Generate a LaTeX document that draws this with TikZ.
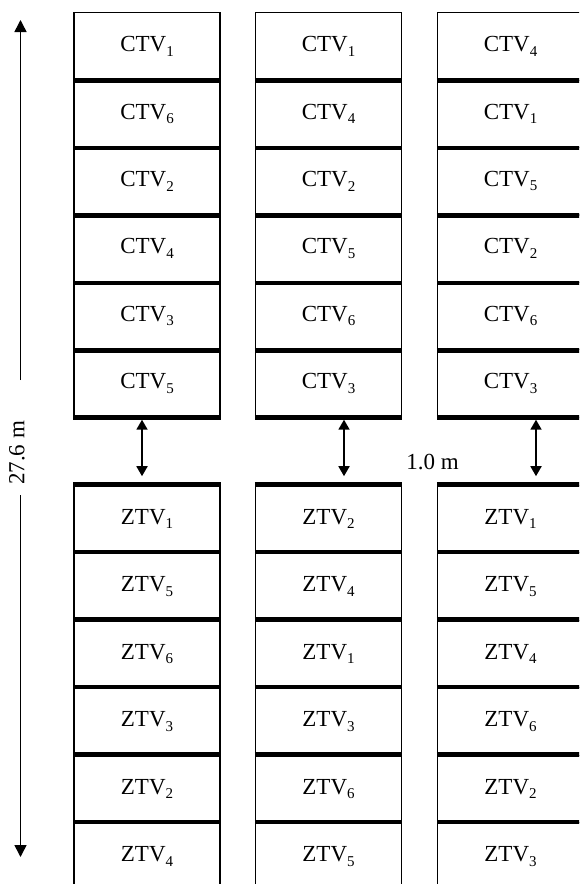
\documentclass[tikz,border=0pt]{standalone}
\usepackage{fontspec}
\setmainfont{Liberation Serif}
\usetikzlibrary{arrows.meta,calc}
\newcommand\sbs[1]{\raisebox{-4.5pt}{\fontsize{15}{15}\selectfont #1}}
\begin{document}
\begin{tikzpicture}[x=1pt,y=-1pt,
  cell/.style={draw, line width=1.2pt, minimum width=146pt, inner sep=0pt, font=\fontsize{23}{27}\selectfont},
  ccell/.style={cell, minimum height=67.4pt},
  zcell/.style={cell, minimum height=67.5pt},
  sep/.style={line width=4.5pt},
  dim/.style={line width=1.8pt, {Triangle[length=10pt,width=11pt]}-{Triangle[length=10pt,width=11pt]}},
  bigarrow/.style={line width=1.5pt, -{Triangle[length=12pt,width=12pt]}},
  lbl/.style={font=\fontsize{23}{27}\selectfont, inner sep=0pt}]
\useasboundingbox (0,0) rectangle (579,884);
\clip (0,0) rectangle (579,884);
% CTV block
\foreach \col/\x/\lst in {1/147/{1,6,2,4,3,5}, 2/328.5/{1,4,2,5,6,3}, 3/510.5/{4,1,5,2,6,3}} {
  \foreach \n [count=\r] in \lst {
    \node[ccell] (c\col\r) at (\x, {46.4+67.4*(\r-1)}) {CTV\sbs{\n}};
  }
}
% ZTV block
\foreach \col/\x/\lst in {1/147/{1,5,6,3,2,4}, 2/328.5/{2,4,1,3,6,5}, 3/510.5/{1,5,4,6,2,3}} {
  \foreach \n [count=\r] in \lst {
    \node[zcell] (z\col\r) at (\x, {519.05+67.5*(\r-1)}) {ZTV\sbs{\n}};
  }
}
% thick separators
\foreach \col in {1,2,3} {
  \foreach \r in {1,...,6} {
    \draw[sep] (c\col\r.south west) -- (c\col\r.south east);
    \draw[sep] (z\col\r.north west) -- (z\col\r.north east);
  }
}
% 1.0 m spacing arrows
\draw[dim] ([xshift=-5pt,yshift=-2pt]c16.south) -- ([xshift=-5pt,yshift=8.5pt]z11.north);
\draw[dim] ([xshift=15.5pt,yshift=-2pt]c26.south) -- ([xshift=15.5pt,yshift=8.5pt]z21.north);
\draw[dim] ([xshift=25.5pt,yshift=-2pt]c36.south) -- ([xshift=25.5pt,yshift=8.5pt]z31.north);
\node[lbl] (gap) at (432.5,462.5) {1.0 m};
% overall length
\coordinate (atop) at (20.5,20);
\coordinate (a1) at (20.5,380);
\coordinate (a2) at (20.5,495);
\coordinate (abot) at (20.5,857);
\node[lbl, rotate=90] (len) at (17,453) {27.6 m};
\draw[bigarrow] (a1) -- (atop);
\draw[bigarrow] (a2) -- (abot);
\end{tikzpicture}
\end{document}
